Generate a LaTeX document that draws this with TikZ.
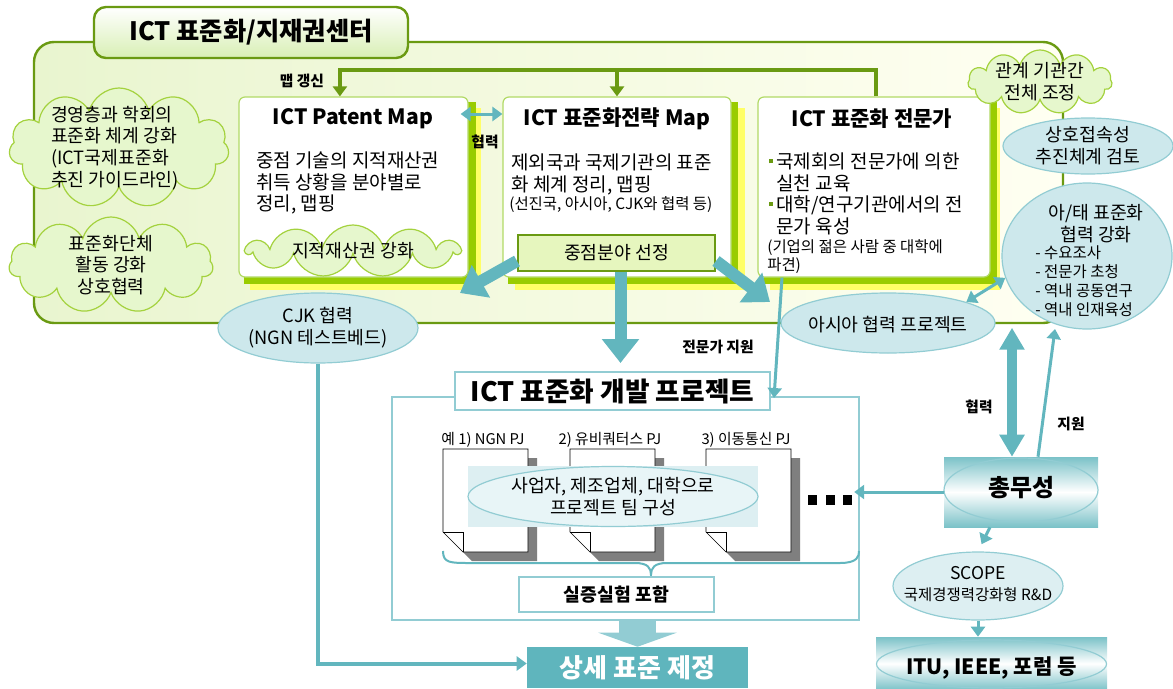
\documentclass[tikz,border=0pt]{standalone}
\usepackage{fontspec}
\setmainfont{Noto Sans CJK KR}
\usetikzlibrary{arrows.meta,shapes.geometric,shapes.symbols}

\definecolor{dkgreen}{HTML}{6A9A12}
\definecolor{ltgreen}{HTML}{99CC00}
\definecolor{shyellow}{HTML}{FFFF66}
\definecolor{boxline}{HTML}{B2DA66}
\definecolor{framel}{HTML}{E9F5CF}
\definecolor{framer}{HTML}{FFFFF2}
\definecolor{titlegr}{HTML}{D8EFB4}
\definecolor{cloudfill}{HTML}{E6F7CD}
\definecolor{cloudline}{HTML}{A4D23E}
\definecolor{focusfill}{HTML}{E6F6BE}
\definecolor{tealarr}{HTML}{62B6BE}
\definecolor{tealline}{HTML}{92CCD3}
\definecolor{tealfill}{HTML}{CDE8EC}
\definecolor{teamfill}{HTML}{DDEFF2}
\definecolor{teamell}{HTML}{E8F5F7}
\definecolor{gradteal}{HTML}{7BC2C8}
\definecolor{stdfill}{HTML}{5FB5BD}
\definecolor{docshadow}{HTML}{7F7F7F}

\newcommand{\sqbullet}{\textcolor{dkgreen}{\rule[0.3em]{1mm}{1mm}}\hspace{0.8mm}}

\tikzset{
  txt/.style={font=\fontsize{13}{15.5}\selectfont,align=center,inner sep=0pt},
  bodytxt/.style={font=\fontsize{13.5}{15.2}\selectfont,align=left,inner sep=0pt},
  smalltxt/.style={font=\fontsize{11}{13}\selectfont,align=left,inner sep=0pt},
  listtxt/.style={font=\fontsize{11}{13.5}\selectfont,align=left,inner sep=0pt},
  lbl/.style={font=\fontsize{10.5}{12}\selectfont\bfseries,inner sep=0pt},
  boxtitle/.style={font=\fontsize{15}{18}\selectfont\bfseries,inner sep=0pt},
  bigtitle/.style={font=\fontsize{17}{20}\selectfont\bfseries,inner sep=0pt},
  cloudbox/.style={cloud,cloud puffs=11,cloud ignores aspect,draw=cloudline,fill=cloudfill,line width=0.3mm,inner sep=0pt},
  ellbox/.style={ellipse,draw=tealline,fill=tealfill,line width=0.3mm,inner sep=0pt},
  mapbox/.style={draw=boxline,fill=white,rounded corners=1.5mm,line width=0.3mm,inner sep=0pt},
  gradbox/.style={top color=gradteal,bottom color=gradteal,middle color=white,inner sep=0pt},
  fatarrow/.style={tealarr,line width=3mm,-{Triangle[length=6mm,width=9mm]}},
  thinarrow/.style={tealarr,line width=0.75mm,-{Triangle[length=2.5mm,width=3.5mm]}},
  maparrow/.style={dkgreen,line width=1mm,-{Triangle[length=2.5mm,width=3.5mm]}},
}

\begin{document}
\begin{tikzpicture}[x=0.25mm,y=-0.25mm]
\useasboundingbox (0,0) rectangle (1173,688);

\draw[dkgreen,line width=0.6mm,rounded corners=5mm,left color=framel,right color=framer] (34,42) rectangle (1063,323);
\node[draw=dkgreen,line width=0.6mm,rounded corners=3mm,top color=white,bottom color=titlegr,minimum width=78.5mm,minimum height=12.75mm,font=\fontsize{18}{21}\selectfont\bfseries] (center) at (251,32.5) {ICT 표준화/지재권센터};

% map boxes
\fill[shyellow] (250,108) rectangle (481,290);
\fill[ltgreen] (244,102) rectangle (476,284);
\node[mapbox,minimum width=57.25mm,minimum height=45mm] (patent) at (353.5,187) {};
\fill[shyellow] (515,108) rectangle (745,290);
\fill[ltgreen] (508,102) rectangle (738,284);
\node[mapbox,minimum width=57mm,minimum height=45mm] (strategy) at (617,187) {};
\fill[shyellow] (770,108) rectangle (1000,290);
\fill[ltgreen] (764,102) rectangle (997,284);
\node[mapbox,minimum width=58mm,minimum height=45mm] (expert) at (874,187) {};

\node[boxtitle] (patent-t) at (353,119) {ICT Patent Map};
\node[boxtitle] (strategy-t) at (617,119) {ICT 표준화전략 Map};
\node[boxtitle] (expert-t) at (872,119) {ICT 표준화 전문가};

\node[bodytxt,anchor=north west] (patent-b) at (256,152) {중점 기술의 지적재산권\\취득 상황을 분야별로\\정리, 맵핑};
\node[bodytxt,anchor=north west] (strategy-b) at (511,154) {제외국과 국제기관의 표준\\화 체계 정리, 맵핑};
\node[smalltxt,anchor=west] (strategy-s) at (509,205) {(선진국, 아시아, CJK와 협력 등)};
\node[bodytxt,anchor=north west] (expert-b) at (769,153) {\sqbullet 국제회의 전문가에 의한\\\hspace*{1.8mm}실천 교육\\\sqbullet 대학/연구기관에서의 전\\\hspace*{1.8mm}문가 육성};
\node[smalltxt,anchor=north west] (expert-s) at (767,239) {(기업의 젊은 사람 중 대학에\\파견)};

\node[draw=dkgreen,line width=0.5mm,fill=focusfill,minimum width=49.25mm,minimum height=9mm,txt] (focus) at (616.5,253) {중점분야 선정};

\node[cloudbox,minimum width=53mm,minimum height=13mm] (ipr) at (353,251) {};
\node[txt] (ipr-t) at (ipr) {지적재산권 강화};

% clouds
\node[cloudbox,minimum width=55mm,minimum height=30mm] (mgmt) at (119,148) {};
\node[txt,align=left] (mgmt-t) at (115,148) {경영층과 학회의\\표준화 체계 강화\\(ICT국제표준화\\추진 가이드라인)};
\node[cloudbox,minimum width=51mm,minimum height=24mm] (sdo) at (111,265) {};
\node[txt] (sdo-t) at (sdo) {표준화단체\\활동 강화\\상호협력};
\node[cloudbox,minimum width=36mm,minimum height=16mm] (coord) at (1040,82) {};
\node[txt] (coord-t) at (coord) {관계 기관간\\전체 조정};

% map update
\coordinate (upd) at (617,71);
\draw[maparrow] ([xshift=0.5mm]expert.north) -- ++(0,-26) -| ([xshift=-3.4mm]patent.north);
\draw[maparrow] (upd) -- (strategy.north);
\node[lbl] (upd-l) at (302,81) {맵 갱신};

\draw[thinarrow,{Triangle[length=2.5mm,width=3.5mm]}-{Triangle[length=2.5mm,width=3.5mm]}] ([xshift=-2mm,yshift=18.25mm]patent.east) -- ([yshift=18.25mm]strategy.west);
\node[lbl] (coop1-l) at (485,142) {협력};

% ellipses
\node[ellbox,minimum width=50mm,minimum height=17.5mm] (cjk) at (318,328) {};
\node[txt] (cjk-t) at (cjk) {CJK 협력\\(NGN 테스트베드)};
\node[ellbox,minimum width=53.5mm,minimum height=15mm] (asia) at (888,323) {};
\node[txt] (asia-t) at (888,325) {아시아 협력 프로젝트};
\node[ellbox,minimum width=42.5mm,minimum height=14mm] (interop) at (1088,146) {};
\node[txt] (interop-t) at (interop) {상호접속성\\추진체계 검토};
\node[ellbox,minimum width=42.5mm,minimum height=36.5mm] (apac) at (1087,256) {};
\node[txt] (apac-t) at (1096,224) {아/태 표준화\\협력 강화};
\node[listtxt,anchor=north west] (apac-l) at (1035,245) {- 수요조사\\- 전문가 초청\\- 역내 공동연구\\- 역내 인재육성};

\coordinate (cjkin) at (460,293);
\coordinate (asiain) at (770,302);
\draw[fatarrow] ([yshift=-2mm]focus.west) -- (cjkin);
\draw[fatarrow] ([xshift=1mm]focus.south) -- ++(0,91);
\draw[fatarrow] ([yshift=-2mm]focus.east) -- (asiain);

% project
\node[draw=tealline,fill=white,line width=0.6mm,minimum width=116.75mm,minimum height=55.75mm] (proj) at (625.5,508.5) {};
\node[draw=tealline,fill=white,line width=0.5mm,minimum width=78.75mm,minimum height=9.5mm,font=\fontsize{19}{22}\selectfont\bfseries] (ptitle) at (612.5,391) {ICT 표준화 개발 프로젝트};

\foreach \x/\t in {443/{예 1) NGN PJ},570/{2) 유비쿼터스 PJ},706/{3) 이동통신 PJ}}{
  \fill[docshadow] (\x+9,458) -- (\x+94,458) -- (\x+94,561) -- (\x+29,561) -- (\x+9,541) -- cycle;
  \draw[fill=white,line width=0.4pt] (\x,449) -- (\x+85,449) -- (\x+85,552) -- (\x+20,552) -- (\x,532) -- cycle;
  \draw[line width=0.4pt] (\x,532) -- (\x+20,532) -- (\x+20,552);
  \node[font=\fontsize{10.5}{12}\selectfont,inner sep=0pt] (pj\x) at (\x+40,440) {\t};
}
\node[fill=teamfill,minimum width=72.5mm,minimum height=15.25mm] (teambg) at (613,496.5) {};
\node[ellipse,draw=tealline,fill=teamell,line width=0.3mm,minimum width=72.5mm,minimum height=15mm,inner sep=0pt] (team) at (613,496.5) {};
\node[txt] (team-t) at (team) {사업자, 제조업체, 대학으로\\프로젝트 팀 구성};
\foreach \x in {808,826,843}
  \fill (\x,495) rectangle ++(9,10);

\draw[tealarr,line width=0.5mm] (443,551) .. controls (443,563) and (450,563) .. (470,563) -- (635,563) .. controls (648,563) and (651,568) .. (651,575) .. controls (651,568) and (654,563) .. (667,563) -- (840,563) .. controls (858,563) and (859,556) .. (859,551);
\node[draw=tealline,fill=white,line width=0.4mm,minimum width=48.75mm,minimum height=8.75mm,font=\fontsize{13}{15}\selectfont\bfseries] (demo) at (616.5,594.5) {실증실험 포함};

\node[fill=stdfill,minimum width=55.25mm,minimum height=10.25mm,font=\fontsize{18.5}{21}\selectfont\bfseries,text=white] (std) at (637.5,667.5) {상세 표준 제정};
\draw[tealline,line width=9.25mm,-{Triangle[length=3.5mm,width=19.5mm]}] (proj.south -| std.north) -- (std.north);
\draw[thinarrow,line width=1mm] (cjk.south) |- ([yshift=1mm]std.west);

\coordinate (expin) at (774,398);
\draw[thinarrow] ([xshift=-23mm]expert.south) -- (expin);
\node[lbl] (sup1-l) at (718,347) {전문가 지원};

% ministry
\node[gradbox,minimum width=38.5mm,minimum height=17.5mm] (mic) at (1021,492) {};
\node[ellipse,draw=tealline,line width=0.3mm,minimum width=38.5mm,minimum height=16mm,inner sep=0pt] (mic-e) at (1021,490) {};
\node[bigtitle] (mic-t) at (1021,488) {총무성};

\node[ellbox,fill=teamfill,minimum width=42.5mm,minimum height=17mm] (scope) at (978,586) {};
\node[inner sep=0pt,align=center,font=\fontsize{12.5}{15}\selectfont] (scope-t) at (978,584) {SCOPE\\{\fontsize{11}{13}\selectfont 국제경쟁력강화형 R\&D}};

\node[gradbox,minimum width=57.75mm,minimum height=13.25mm] (itu) at (991.5,663.5) {};
\node[ellipse,draw=tealline,line width=0.3mm,minimum width=57.5mm,minimum height=12mm,inner sep=0pt] (itu-e) at (991.5,664) {};
\node[font=\fontsize{15}{18}\selectfont\bfseries,inner sep=0pt] (itu-t) at (991.5,668) {ITU, IEEE, 포럼 등};

\draw[thinarrow,shorten >=-1.5mm] (mic.west) -- (proj.east |- mic.west);
\draw[tealarr,line width=2.5mm,{Triangle[length=5.5mm,width=6mm]}-{Triangle[length=5.5mm,width=6mm]}] ([xshift=-2.25mm]mic.north) -- ++(0,-129);
\node[lbl] (coop2-l) at (979,407) {협력};
\coordinate (apacin) at (1055,329);
\draw[thinarrow] ([xshift=4.25mm]mic.north) -- (apacin);
\node[lbl] (sup2-l) at (1071,424) {지원};
\draw[thinarrow,{Triangle[length=2.5mm,width=3.5mm]}-{Triangle[length=2.5mm,width=3.5mm]}] (asia.15) -- (apac.195);
\draw[thinarrow,shorten >=2mm] ([xshift=-7.75mm]mic.south) -- (scope.north);
\draw[thinarrow] (scope.south) -- (scope.south |- itu.north);

\end{tikzpicture}
\end{document}
